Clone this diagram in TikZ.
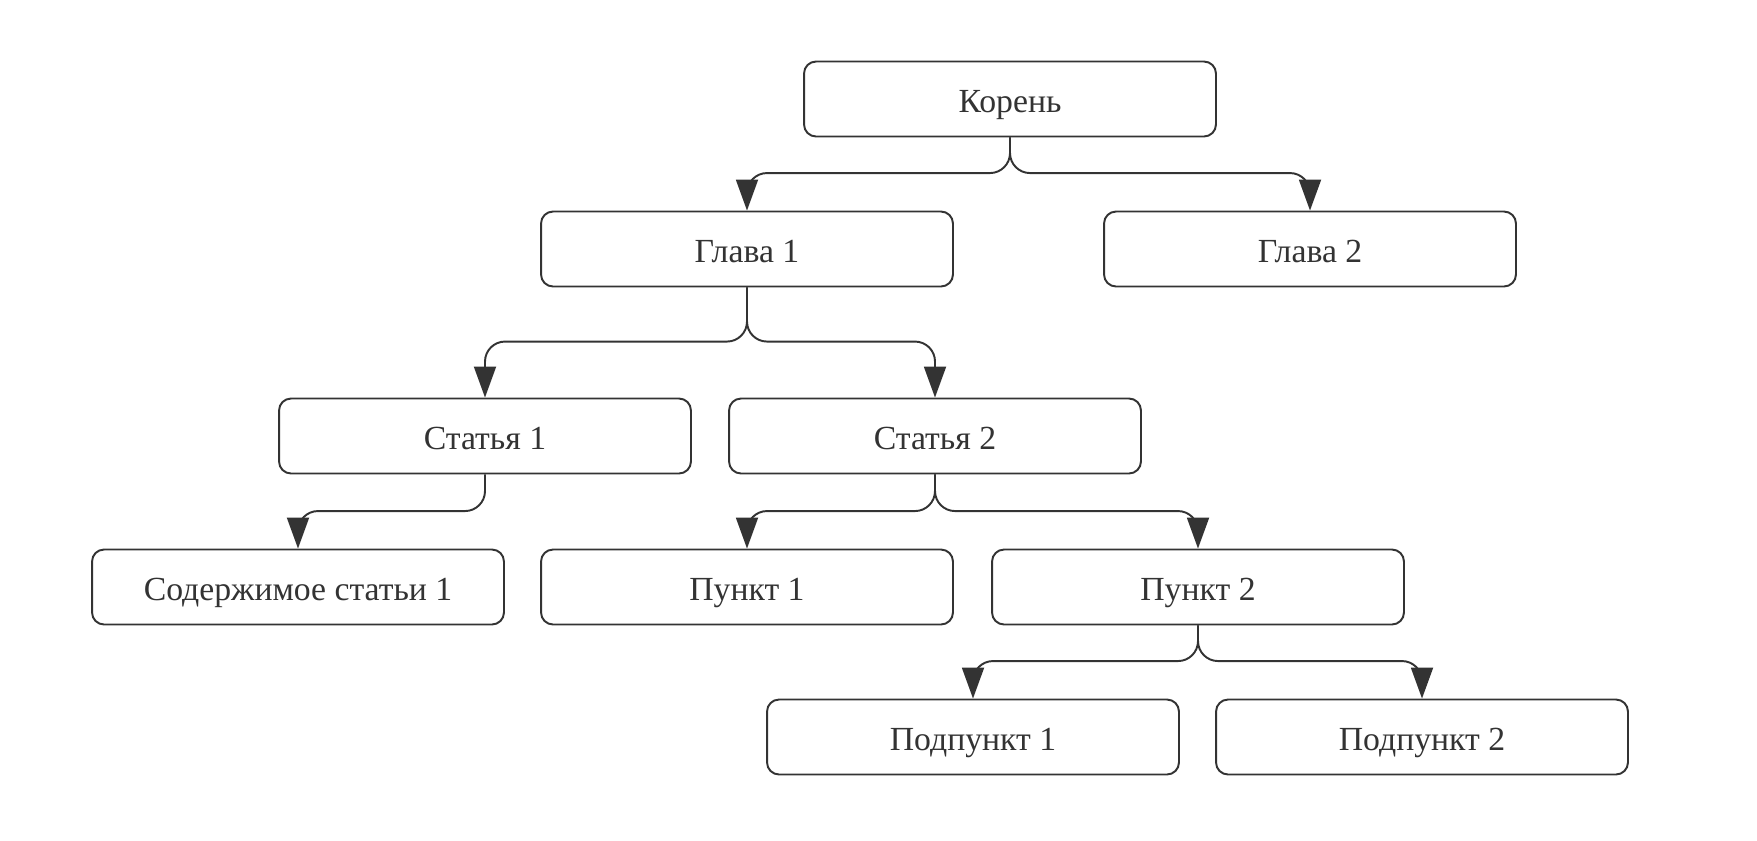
\documentclass[tikz,border=0pt]{standalone}
\usepackage{fontspec}
\setmainfont{Liberation Serif}
\usetikzlibrary{arrows.meta}

\definecolor{ink}{HTML}{333333}

\begin{document}
\begin{tikzpicture}[x=0.02cm, y=-0.02cm,
  box/.style={draw=ink, line width=1.1pt, rounded corners=0.24cm, minimum width=8.24cm, minimum height=1.5cm, inner sep=0pt, text height=0.58cm, text depth=0.044cm, text=ink, font=\fontsize{19.2}{23}\selectfont},
  link/.style={draw=ink, line width=1.1pt, -{Triangle[length=0.62cm, width=0.44cm]}},
]

\fill [white] (0,0) rectangle (1757,840);
\useasboundingbox (0,0) rectangle (1757,840);

\foreach \name/\x/\y/\txt in {koren/1010/99/Корень, glava1/747/249/Глава 1, glava2/1310/249/Глава 2,
  statya1/485/436/Статья 1, statya2/935/436/Статья 2,
  content1/298/587/Содержимое статьи 1, punkt1/747/587/Пункт 1, punkt2/1198/587/Пункт 2,
  podpunkt1/973/737/Подпункт 1, podpunkt2/1422/737/Подпункт 2}
{
  \node (\name) [box] at (\x,\y) {\txt};
}

\draw [link] (koren.south) [rounded corners=0.4cm] |- ([yshift=0.75cm]glava1.north) [rounded corners=0.1cm] -- (glava1.north);
\draw [link] (koren.south) [rounded corners=0.4cm] |- ([yshift=0.75cm]glava2.north) [rounded corners=0.1cm] -- (glava2.north);

\draw [link, rounded corners=0.4cm] (glava1.south) |- ([yshift=1.12cm]statya1.north) -- (statya1.north);
\draw [link, rounded corners=0.4cm] (glava1.south) |- ([yshift=1.12cm]statya2.north) -- (statya2.north);

\draw [link] (statya1.south) [rounded corners=0.4cm] |- ([yshift=0.75cm]content1.north) [rounded corners=0.1cm] -- (content1.north);

\draw [link] (statya2.south) [rounded corners=0.4cm] |- ([yshift=0.75cm]punkt1.north) [rounded corners=0.1cm] -- (punkt1.north);
\draw [link] (statya2.south) [rounded corners=0.4cm] |- ([yshift=0.75cm]punkt2.north) [rounded corners=0.1cm] -- (punkt2.north);

\draw [link] (punkt2.south) [rounded corners=0.4cm] |- ([yshift=0.75cm]podpunkt1.north) [rounded corners=0.1cm] -- (podpunkt1.north);
\draw [link] (punkt2.south) [rounded corners=0.4cm] |- ([yshift=0.75cm]podpunkt2.north) [rounded corners=0.1cm] -- (podpunkt2.north);

\end{tikzpicture}
\end{document}
